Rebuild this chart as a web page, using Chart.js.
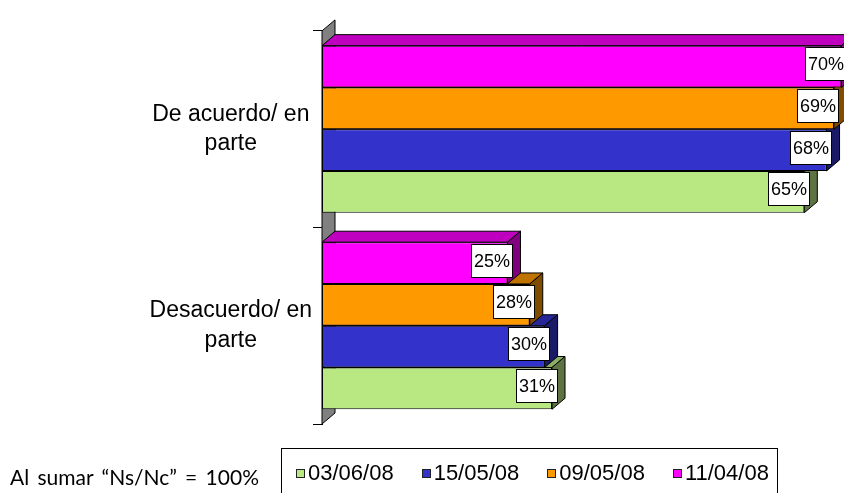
<!DOCTYPE html>
<html><head><meta charset="utf-8">
<script src="https://cdn.jsdelivr.net/npm/chart.js@4.4.1/dist/chart.umd.min.js"></script>
<style>
html,body{margin:0;padding:0;background:#fff;}
#wrap{position:relative;width:844px;height:493px;overflow:hidden;background:#fff;}
#c{position:absolute;left:0;top:0;}
#note{position:absolute;left:10px;top:464px;font-family:Lato,"Liberation Sans",sans-serif;font-size:21px;word-spacing:3px;color:#000;white-space:nowrap;}
#legend{position:absolute;left:281px;top:448px;width:497px;height:60px;border:1px solid #000;box-sizing:border-box;display:flex;align-items:flex-start;padding:11px 0 0 14px;}
.li{display:flex;align-items:center;margin-right:28px;font-family:"Liberation Sans",Arial,sans-serif;font-size:22px;line-height:26px;color:#000;}
.sw{width:7px;height:7px;border:1px solid #222;margin-right:3px;}
</style></head>
<body>
<div id="wrap">
<canvas id="c" width="844" height="493"></canvas>
<div id="note">Al sumar “Ns/Nc” = 100%</div>
<div id="legend"></div>
</div>
<script>
// ---- data ----
const categories = [["De acuerdo/ en", "parte"], ["Desacuerdo/ en", "parte"]];
const seriesNames = ["11/04/08", "09/05/08", "15/05/08", "03/06/08"];
const values_110408 = [70, 25];
const values_090508 = [69, 28];
const values_150508 = [68, 30];
const values_030608 = [65, 31];
const seriesColors = ["#FF00FF", "#FF9900", "#3333CC", "#B9E883"];
const axisMin = 0, axisMax = 70;

const seriesValues = [values_110408, values_090508, values_150508, values_030608];

const DX = 13, DY = -11;
function shade(hex, f) {
  const n = parseInt(hex.slice(1), 16);
  const r = Math.round(((n >> 16) & 255) * f), g = Math.round(((n >> 8) & 255) * f), b = Math.round((n & 255) * f);
  return `rgb(${r},${g},${b})`;
}
function poly(ctx, pts, fill) {
  ctx.beginPath();
  ctx.moveTo(pts[0][0], pts[0][1]);
  for (let i = 1; i < pts.length; i++) ctx.lineTo(pts[i][0], pts[i][1]);
  ctx.closePath();
  ctx.fillStyle = fill; ctx.fill();
  ctx.strokeStyle = '#000'; ctx.lineWidth = 1; ctx.stroke();
}

const bar3d = {
  id: 'bar3d',
  beforeDatasetsDraw(chart) {
    const {ctx, chartArea: a} = chart;
    ctx.save();
    poly(ctx, [[a.left, a.top], [a.left + DX, a.top + DY], [a.left + DX, a.bottom + DY], [a.left, a.bottom]], '#808080');
    ctx.restore();
  },
  beforeDatasetDraw(chart, args) {
    const ctx = chart.ctx;
    const color = chart.data.datasets[args.index].backgroundColor;
    ctx.save();
    args.meta.data.forEach(el => {
      const p = el.getProps(['x', 'y', 'base', 'height'], true);
      const top = p.y - p.height / 2, bot = p.y + p.height / 2;
      poly(ctx, [[p.base, top], [p.base + DX, top + DY], [p.x + DX, top + DY], [p.x, top]], shade(color, 0.75));
      poly(ctx, [[p.x, top], [p.x + DX, top + DY], [p.x + DX, bot + DY], [p.x, bot]], shade(color, 0.5));
    });
    ctx.restore();
  },
  afterDatasetsDraw(chart) {
    const ctx = chart.ctx;
    ctx.save();
    ctx.font = '18px "Liberation Sans", Arial, sans-serif';
    ctx.textAlign = 'center';
    ctx.textBaseline = 'middle';
    chart.data.datasets.forEach((ds, i) => {
      chart.getDatasetMeta(i).data.forEach((el, j) => {
        const p = el.getProps(['x', 'y'], true);
        const w = 41, h = 33;
        const cx = p.x - 16, cy = p.y - 3;
        const bx = Math.round(cx - w / 2) + 0.5, by = Math.round(cy - h / 2) + 0.5;
        ctx.fillStyle = '#fff';
        ctx.fillRect(bx, by, w, h);
        ctx.strokeStyle = '#000'; ctx.lineWidth = 1;
        ctx.strokeRect(bx, by, w, h);
        ctx.fillStyle = '#000';
        ctx.fillText(ds.data[j] + '%', bx + w / 2, by + h / 2 + 1);
      });
    });
    ctx.restore();
  }
};

const datasets = seriesNames.map((name, i) => ({
  label: name,
  data: seriesValues[i],
  backgroundColor: seriesColors[i],
  borderColor: '#000',
  borderWidth: 1,
  borderSkipped: false,
  categoryPercentage: 0.85,
  barPercentage: 1,
  clip: false
}));

const chart = new Chart(document.getElementById('c'), {
  type: 'bar',
  data: {labels: categories, datasets},
  options: {
    indexAxis: 'y',
    responsive: false,
    animation: false,
    layout: {padding: {top: 23, bottom: 69, left: 0, right: 2.6}},
    plugins: {legend: {display: false}, tooltip: {enabled: false}},
    scales: {
      x: {display: false, min: axisMin, max: axisMax},
      y: {
        afterFit(s) { s.width = 322; },
        grid: {display: true, drawOnChartArea: false, drawTicks: true, tickLength: 9, color: '#000', offset: true},
        border: {display: true, color: '#000'},
        ticks: {crossAlign: 'center', padding: 1, color: '#000', font: {family: '"Liberation Sans", Arial, sans-serif', size: 23, lineHeight: 1.3}}
      }
    }
  },
  plugins: [bar3d]
});

// legend built from the chart's datasets (reverse order as in the original)
const lg = document.getElementById('legend');
chart.data.datasets.slice().reverse().forEach(ds => {
  const item = document.createElement('div'); item.className = 'li';
  const sw = document.createElement('span'); sw.className = 'sw'; sw.style.background = ds.backgroundColor;
  const tx = document.createElement('span'); tx.textContent = ds.label;
  item.appendChild(sw); item.appendChild(tx); lg.appendChild(item);
});
</script>
</body></html>
